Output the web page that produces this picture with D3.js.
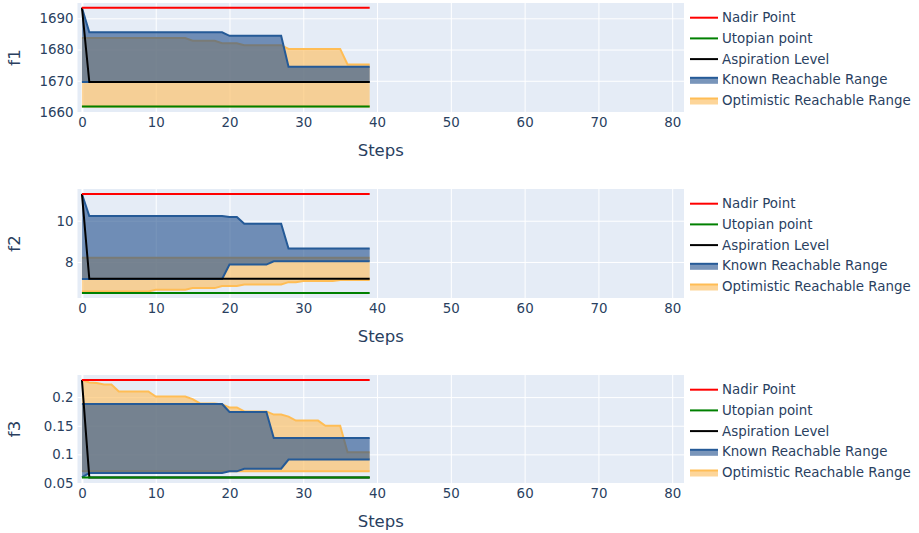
<!DOCTYPE html>
<html>
<head>
<meta charset="utf-8">
<script src="https://cdn.jsdelivr.net/npm/d3@7/dist/d3.min.js"></script>
<style>
  html, body { margin: 0; padding: 0; background: #fff; }
  svg { display: block; font-family: "DejaVu Sans", Verdana, sans-serif; }
</style>
</head>
<body>
<svg id="chart" width="919" height="533"></svg>
<script>
// ---------------- DATA ----------------
const steps = [0,1,2,3,4,5,6,7,8,9,10,11,12,13,14,15,16,17,18,19,20,21,22,23,24,25,26,27,28,29,30,31,32,33,34,35,36,37,38,39];
const xTicks = [0,10,20,30,40,50,60,70,80];

const seriesNames = ["Nadir Point", "Utopian point", "Aspiration Level", "Known Reachable Range", "Optimistic Reachable Range"];

// f1
const f1Ticks = [1660,1670,1680,1690];
const f1Nadir = 1693.4;
const f1Utopian = 1661.8;
const f1Aspiration = [1693.4,1669.6,1669.6,1669.6,1669.6,1669.6,1669.6,1669.6,1669.6,1669.6,1669.6,1669.6,1669.6,1669.6,1669.6,1669.6,1669.6,1669.6,1669.6,1669.6,1669.6,1669.6,1669.6,1669.6,1669.6,1669.6,1669.6,1669.6,1669.6,1669.6,1669.6,1669.6,1669.6,1669.6,1669.6,1669.6,1669.6,1669.6,1669.6,1669.6];
const f1KnownUpper = [1693.4,1685.5,1685.5,1685.5,1685.5,1685.5,1685.5,1685.5,1685.5,1685.5,1685.5,1685.5,1685.5,1685.5,1685.5,1685.5,1685.5,1685.5,1685.5,1685.5,1684.4,1684.4,1684.4,1684.4,1684.4,1684.4,1684.4,1684.4,1674.5,1674.5,1674.5,1674.5,1674.5,1674.5,1674.5,1674.5,1674.5,1674.5,1674.5,1674.5];
const f1KnownLower = [1669.6,1669.6,1669.6,1669.6,1669.6,1669.6,1669.6,1669.6,1669.6,1669.6,1669.6,1669.6,1669.6,1669.6,1669.6,1669.6,1669.6,1669.6,1669.6,1669.6,1669.6,1669.6,1669.6,1669.6,1669.6,1669.6,1669.6,1669.6,1669.6,1669.6,1669.6,1669.6,1669.6,1669.6,1669.6,1669.6,1669.6,1669.6,1669.6,1669.6];
const f1OptUpper = [1683.7,1683.7,1683.7,1683.7,1683.7,1683.7,1683.7,1683.7,1683.7,1683.7,1683.7,1683.7,1683.7,1683.7,1683.7,1682.8,1682.8,1682.8,1682.8,1682.0,1682.0,1682.0,1681.4,1681.4,1681.4,1681.4,1681.4,1681.4,1680.2,1680.2,1680.2,1680.2,1680.2,1680.2,1680.2,1680.2,1675.2,1675.2,1675.2,1675.2];
const f1OptLower = [1661.8,1661.8,1661.8,1661.8,1661.8,1661.8,1661.8,1661.8,1661.8,1661.8,1661.8,1661.8,1661.8,1661.8,1661.8,1661.8,1661.8,1661.8,1661.8,1661.8,1661.8,1661.8,1661.8,1661.8,1661.8,1661.8,1661.8,1661.8,1661.8,1661.8,1661.8,1661.8,1661.8,1661.8,1661.8,1661.8,1661.8,1661.8,1661.8,1661.8];

// f2
const f2Ticks = [8,10];
const f2Nadir = 11.30;
const f2Utopian = 6.49;
const f2Aspiration = [11.30,7.18,7.18,7.18,7.18,7.18,7.18,7.18,7.18,7.18,7.18,7.18,7.18,7.18,7.18,7.18,7.18,7.18,7.18,7.18,7.18,7.18,7.18,7.18,7.18,7.18,7.18,7.18,7.18,7.18,7.18,7.18,7.18,7.18,7.18,7.18,7.18,7.18,7.18,7.18];
const f2KnownUpper = [11.30,10.23,10.23,10.23,10.23,10.23,10.23,10.23,10.23,10.23,10.23,10.23,10.23,10.23,10.23,10.23,10.23,10.23,10.23,10.23,10.18,10.18,9.85,9.85,9.85,9.85,9.85,9.85,8.65,8.65,8.65,8.65,8.65,8.65,8.65,8.65,8.65,8.65,8.65,8.65];
const f2KnownLower = [7.17,7.17,7.17,7.17,7.17,7.17,7.17,7.17,7.17,7.17,7.17,7.17,7.17,7.17,7.17,7.17,7.17,7.17,7.17,7.17,7.87,7.87,7.87,7.87,7.87,7.87,8.03,8.03,8.03,8.03,8.03,8.03,8.03,8.03,8.03,8.03,8.03,8.03,8.03,8.03];
const f2OptUpper = [8.2,8.2,8.2,8.2,8.2,8.2,8.2,8.2,8.2,8.2,8.2,8.2,8.2,8.2,8.2,8.2,8.2,8.2,8.2,8.2,8.2,8.2,8.2,8.2,8.2,8.2,8.2,8.2,8.2,8.2,8.2,8.2,8.2,8.2,8.2,8.2,8.2,8.2,8.2,8.2];
const f2OptLower = [6.57,6.57,6.57,6.57,6.57,6.57,6.57,6.57,6.57,6.57,6.65,6.65,6.65,6.65,6.65,6.73,6.73,6.73,6.73,6.83,6.83,6.83,6.91,6.91,6.91,6.91,6.91,6.91,7.02,7.02,7.08,7.08,7.08,7.08,7.08,7.12,7.12,7.12,7.12,7.12];

// f3
const f3Ticks = [0.05,0.1,0.15,0.2];
const f3Nadir = 0.230;
const f3Utopian = 0.0594;
const f3Aspiration = [0.230,0.0598,0.0598,0.0598,0.0598,0.0598,0.0598,0.0598,0.0598,0.0598,0.0598,0.0598,0.0598,0.0598,0.0598,0.0598,0.0598,0.0598,0.0598,0.0598,0.0598,0.0598,0.0598,0.0598,0.0598,0.0598,0.0598,0.0598,0.0598,0.0598,0.0598,0.0598,0.0598,0.0598,0.0598,0.0598,0.0598,0.0598,0.0598,0.0598];
const f3KnownUpper = [0.188,0.188,0.188,0.188,0.188,0.188,0.188,0.188,0.188,0.188,0.188,0.188,0.188,0.188,0.188,0.188,0.188,0.188,0.188,0.188,0.174,0.174,0.174,0.174,0.174,0.174,0.1286,0.1286,0.1286,0.1286,0.1286,0.1286,0.1286,0.1286,0.1286,0.1286,0.1286,0.1286,0.1286,0.1286];
const f3KnownLower = [0.060,0.0676,0.0676,0.0676,0.0676,0.0676,0.0676,0.0676,0.0676,0.0676,0.0676,0.0676,0.0676,0.0676,0.0676,0.0676,0.0676,0.0676,0.0676,0.0676,0.0704,0.0704,0.075,0.075,0.075,0.075,0.075,0.075,0.091,0.091,0.091,0.091,0.091,0.091,0.091,0.091,0.091,0.091,0.091,0.091];
const f3OptUpper = [0.230,0.2255,0.2245,0.222,0.222,0.210,0.210,0.210,0.210,0.210,0.201,0.201,0.201,0.201,0.201,0.1965,0.189,0.189,0.189,0.187,0.182,0.182,0.175,0.175,0.175,0.175,0.1695,0.1695,0.166,0.159,0.159,0.159,0.159,0.150,0.150,0.150,0.1035,0.1035,0.1035,0.1035];
const f3OptLower = [0.0705,0.0705,0.0705,0.0705,0.0705,0.0705,0.0705,0.0705,0.0705,0.0705,0.0705,0.0705,0.0705,0.0705,0.0705,0.0705,0.0705,0.0705,0.0705,0.0705,0.0705,0.0705,0.0705,0.0705,0.0705,0.0705,0.0705,0.0705,0.0705,0.0705,0.0705,0.0705,0.0705,0.0705,0.0705,0.0705,0.0705,0.0705,0.0705,0.0705];

// ---------------- BUILD ----------------
const panels = [
  {title:"f1", ticks:f1Ticks, domain:[1660,1694.9], top:3, bottom:112, nadir:f1Nadir, utopian:f1Utopian,
   asp:f1Aspiration, kU:f1KnownUpper, kL:f1KnownLower, oU:f1OptUpper, oL:f1OptLower, fmt:d => d},
  {title:"f2", ticks:f2Ticks, domain:[6.25,11.54], top:189, bottom:298, nadir:f2Nadir, utopian:f2Utopian,
   asp:f2Aspiration, kU:f2KnownUpper, kL:f2KnownLower, oU:f2OptUpper, oL:f2OptLower, fmt:d => d},
  {title:"f3", ticks:f3Ticks, domain:[0.05,0.2386], top:375, bottom:483, nadir:f3Nadir, utopian:f3Utopian,
   asp:f3Aspiration, kU:f3KnownUpper, kL:f3KnownLower, oU:f3OptUpper, oL:f3OptLower, fmt:d => String(d)}
];

const plotLeft = 77.5, plotRight = 684;
const textColor = "#2a3f5f";
const bgColor = "#e5ecf6";
const blueLine = "#255a97";
const blueFill = "rgba(31,78,140,0.6)";
const orangeLine = "#ffbd55";
const orangeFill = "rgba(252,195,110,0.7)";
const fontFam = "DejaVu Sans, Verdana, sans-serif";

const svg = d3.select("#chart");
const x = d3.scaleLinear().domain([-0.6, 81.6]).range([plotLeft, plotRight]);

panels.forEach(p => {
  const y = d3.scaleLinear().domain(p.domain).range([p.bottom, p.top]);
  const g = svg.append("g");

  g.append("rect").attr("x", plotLeft).attr("y", p.top)
    .attr("width", plotRight - plotLeft).attr("height", p.bottom - p.top)
    .attr("fill", bgColor);

  // grid lines
  const gx = g.append("g").attr("transform", `translate(0,${p.bottom})`)
    .call(d3.axisBottom(x).tickValues(xTicks).tickSize(-(p.bottom - p.top)).tickFormat(""));
  gx.select(".domain").remove();
  gx.selectAll("line").attr("stroke", "#fff").attr("stroke-width", d => d === 0 ? 2 : 1);

  const gy = g.append("g").attr("transform", `translate(${plotLeft},0)`)
    .call(d3.axisLeft(y).tickValues(p.ticks).tickSize(-(plotRight - plotLeft)).tickFormat(""));
  gy.select(".domain").remove();
  gy.selectAll("line").attr("stroke", "#fff").attr("stroke-width", 1);

  // tick labels
  const ax = g.append("g").attr("transform", `translate(0,${p.bottom})`)
    .call(d3.axisBottom(x).tickValues(xTicks).tickSize(0).tickPadding(5));
  ax.select(".domain").remove();
  ax.selectAll("text").attr("fill", textColor).attr("font-size", 13.4).attr("font-family", fontFam);

  const ay = g.append("g").attr("transform", `translate(${plotLeft},0)`)
    .call(d3.axisLeft(y).tickValues(p.ticks).tickSize(0).tickPadding(4).tickFormat(p.fmt));
  ay.select(".domain").remove();
  ay.selectAll("text").attr("fill", textColor).attr("font-size", 13.4).attr("font-family", fontFam);

  // titles
  g.append("text").attr("x", (plotLeft + plotRight) / 2).attr("y", p.bottom + 44)
    .attr("text-anchor", "middle").attr("fill", textColor).attr("font-size", 16.5).text("Steps");
  g.append("text").attr("transform", `translate(20,${(p.top + p.bottom) / 2}) rotate(-90)`)
    .attr("text-anchor", "middle").attr("fill", textColor).attr("font-size", 16.5).text(p.title);

  const clipId = "clip-" + p.title;
  g.append("clipPath").attr("id", clipId).append("rect")
    .attr("x", plotLeft).attr("y", p.top - 1).attr("width", plotRight - plotLeft).attr("height", p.bottom - p.top + 2);
  const plot = g.append("g").attr("clip-path", `url(#${clipId})`);

  const area = (lo, hi) => d3.area().x((d, i) => x(steps[i])).y0((d, i) => y(lo[i])).y1((d, i) => y(hi[i]))(steps);
  const line = arr => d3.line().x((d, i) => x(steps[i])).y((d, i) => y(arr[i]))(steps);
  const constLine = v => d3.line().x(d => x(d)).y(() => y(v))(steps);

  // optimistic range
  plot.append("path").attr("d", area(p.oL, p.oU)).attr("fill", orangeFill);
  plot.append("path").attr("d", line(p.oL)).attr("fill", "none").attr("stroke", orangeLine).attr("stroke-width", 2);
  plot.append("path").attr("d", line(p.oU)).attr("fill", "none").attr("stroke", orangeLine).attr("stroke-width", 2);
  // known range
  plot.append("path").attr("d", area(p.kL, p.kU)).attr("fill", blueFill);
  plot.append("path").attr("d", line(p.kL)).attr("fill", "none").attr("stroke", blueLine).attr("stroke-width", 2);
  plot.append("path").attr("d", line(p.kU)).attr("fill", "none").attr("stroke", blueLine).attr("stroke-width", 2);
  // aspiration, nadir, utopian
  plot.append("path").attr("d", line(p.asp)).attr("fill", "none").attr("stroke", "#000").attr("stroke-width", 2);
  plot.append("path").attr("d", constLine(p.nadir)).attr("fill", "none").attr("stroke", "red").attr("stroke-width", 2);
  plot.append("path").attr("d", constLine(p.utopian)).attr("fill", "none").attr("stroke", "green").attr("stroke-width", 2);

  // legend
  const lg = g.append("g");
  const ly0 = p.top + 14.7, lstep = 20.7;
  seriesNames.forEach((name, i) => {
    const cy = ly0 + i * lstep;
    if (i < 3) {
      const c = ["red", "green", "#000"][i];
      lg.append("line").attr("x1", 690).attr("x2", 718).attr("y1", cy).attr("y2", cy)
        .attr("stroke", c).attr("stroke-width", 2);
    } else {
      const fc = i === 3 ? blueFill : orangeFill;
      const lc = i === 3 ? blueLine : orangeLine;
      lg.append("rect").attr("x", 690).attr("y", cy - 2).attr("width", 28).attr("height", 6).attr("fill", fc);
      lg.append("line").attr("x1", 690).attr("x2", 718).attr("y1", cy - 2).attr("y2", cy - 2)
        .attr("stroke", lc).attr("stroke-width", 2);
    }
    lg.append("text").attr("x", 722).attr("y", cy).attr("dy", "0.35em")
      .attr("fill", textColor).attr("font-size", 13.4).attr("font-family", fontFam).text(name);
  });
});
</script>
</body>
</html>
